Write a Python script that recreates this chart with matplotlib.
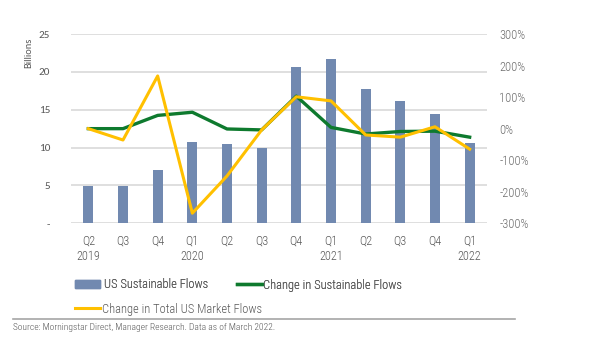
import numpy as np
import matplotlib
matplotlib.use("Agg")
from matplotlib import pyplot as plt
from matplotlib.lines import Line2D
from matplotlib.patches import Patch

quarters = ["Q2\n2019", "Q3", "Q4", "Q1\n2020", "Q2", "Q3", "Q4", "Q1\n2021",
            "Q2", "Q3", "Q4", "Q1\n2022"]
sustainable_flows = [4.9, 4.9, 7.1, 10.7, 10.5, 10.0, 20.7, 21.7, 17.8, 16.1, 14.4, 10.6]
change_sustainable = [0, 0, 42, 52, -1, -4, 103, 4, -17, -9, -8, -27]
change_total_market = [0, -36, 167, -268, -150, -4, 101, 88, -20, -27, 6, -65]

BAR_COLOR = "#7189B0"
GREEN = "#0E7A2E"
YELLOW = "#FFC000"
TEXT = "#595959"
COND = ["Roboto Condensed", "DejaVu Sans"]
PLAIN = ["Carlito", "Lato", "DejaVu Sans"]

plt.rcParams["font.family"] = COND
plt.rcParams["font.weight"] = "light"

fig = plt.figure(figsize=(6.05, 3.4), dpi=100)
ax = fig.add_axes([71 / 605, 1 - 223.3 / 340, 416 / 605, 189.3 / 340])
ax2 = ax.twinx()

x = np.arange(len(quarters))
ax.bar(x, sustainable_flows, width=0.29, color=BAR_COLOR, zorder=2)
ax.set_xlim(-0.5, len(quarters) - 0.5)
ax.set_ylim(0, 25)
ax.set_yticks([0, 5, 10, 15, 20, 25])
ax.set_yticklabels(["-", "5", "10", "15", "20", "25"], fontsize=8, color=TEXT,
                   family=PLAIN, fontweight="normal")
ax.yaxis.grid(True, color="#D9D9D9", linewidth=1.2, zorder=0)
ax.set_axisbelow(True)
ax.set_xticks(x)
ax.set_xticklabels(quarters, fontsize=8.8, color=TEXT, linespacing=1.3)
ax.tick_params(axis="x", length=0, pad=8)
ax.tick_params(axis="y", length=0, pad=15)
for s in ax.spines.values():
    s.set_visible(False)

ax2.plot(x, change_sustainable, color=GREEN, linewidth=2.4, zorder=3)
ax2.plot(x, change_total_market, color=YELLOW, linewidth=2.2, zorder=4)
ax2.set_ylim(-300, 300)
ax2.set_yticks(np.arange(-300, 301, 100))
ax2.set_yticklabels([f"{v}%" for v in range(-300, 301, 100)], fontsize=9, color="#6E6E6E")
ax2.tick_params(length=0, pad=9)
for s in ax2.spines.values():
    s.set_visible(False)

fig.text(29 / 605, 1 - 38 / 340, "Billions", rotation=90, fontsize=7.5, color=TEXT,
         ha="center", va="top", family=PLAIN, fontweight="normal")

# legend, laid out by hand in two rows
handles = [Patch(color=BAR_COLOR), Line2D([], [], color=GREEN, linewidth=2.4),
           Line2D([], [], color=YELLOW, linewidth=2.2)]
labels = ["US Sustainable Flows", "Change in Sustainable Flows", "Change in Total US Market Flows"]
leg_size = 9
leg_px = leg_size * 100 / 72
common = dict(loc="center left", frameon=False, fontsize=leg_size, labelcolor=TEXT,
              handlelength=25 / leg_px, borderpad=0, borderaxespad=0)
leg1 = fig.legend(handles[:1], labels[:1], bbox_to_anchor=(75 / 605, 1 - 285 / 340),
                  handleheight=0.65, handletextpad=4 / leg_px, **common)
leg2 = fig.legend(handles[1:2], labels[1:2], bbox_to_anchor=(237 / 605, 1 - 285 / 340),
                  handletextpad=1 / leg_px, **common)
leg3 = fig.legend(handles[2:], labels[2:], bbox_to_anchor=(75 / 605, 1 - 309 / 340),
                  handletextpad=2 / leg_px, **common)
fig.add_artist(leg1)
fig.add_artist(leg2)

fig.add_artist(Line2D([13 / 605, 515 / 605], [1 - 319 / 340] * 2, color="#A6A6A6", linewidth=1.2))
fig.text(13 / 605, 1 - 328 / 340, "Source: Morningstar Direct, Manager Research. Data as of March 2022.",
         fontsize=6.8, color=TEXT, va="center")

fig.savefig("out.png", dpi=100)
